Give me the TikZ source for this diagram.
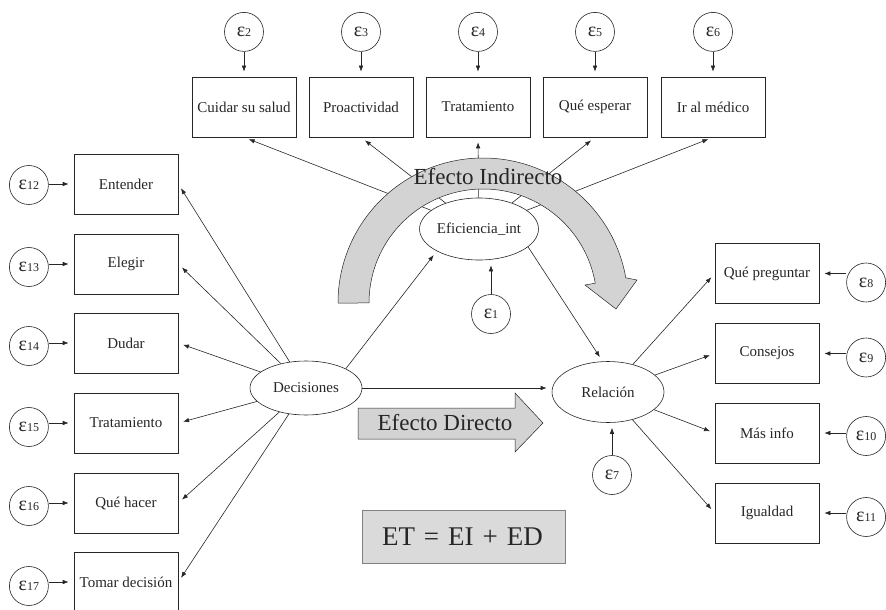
\documentclass[tikz,border=0pt]{standalone}
\usepackage{fontspec}
\setmainfont{Liberation Serif}
\usetikzlibrary{positioning,arrows.meta,shapes.geometric}
\definecolor{ink}{HTML}{262626}
\definecolor{band}{HTML}{D3D3D3}
\definecolor{etfill}{HTML}{DADADA}
\newcommand{\eps}[1]{{\fontsize{20}{20}\selectfont ε}{\fontsize{12}{12}\selectfont #1}}

\begin{document}
\begin{tikzpicture}[x=1pt, y=1pt, ->,
    >={Latex[length=6pt,width=4.5pt]},
    shorten >=5pt,
    line width=0.6pt,
    color=ink,
    font=\fontsize{15}{18}\selectfont,
    obs/.style={draw, rectangle, minimum width=104pt, minimum height=60pt, inner sep=1pt},
    err/.style={draw, circle, minimum size=39pt, inner sep=0pt},
    lat/.style={draw, ellipse, inner sep=0pt}]
    \useasboundingbox (0,0) rectangle (886,-610);

    % indicadores de Eficiencia_int
    \node[obs] (b2) at (244,-107) {Cuidar su salud};
    \node[obs] (b3) at (361,-107) {Proactividad};
    \node[obs] (b4) at (478,-107) {Tratamiento};
    \node[obs] (b5) at (595,-107) {Qué esperar};
    \node[obs] (b6) at (713,-107) {Ir al médico};
    \node[err] (e2) [above=25pt of b2] {\eps{2}};
    \node[err] (e3) [above=25pt of b3] {\eps{3}};
    \node[err] (e4) [above=25pt of b4] {\eps{4}};
    \node[err] (e5) [above=25pt of b5] {\eps{5}};
    \node[err] (e6) [above=25pt of b6] {\eps{6}};

    % indicadores de Decisiones
    \node[obs] (b12) at (126,-184) {Entender};
    \node[obs] (b13) at (126,-264) {Elegir};
    \node[obs] (b14) at (126,-343) {Dudar};
    \node[obs] (b15) at (126,-423) {Tratamiento};
    \node[obs] (b16) at (126,-503) {Qué hacer};
    \node[obs] (b17) at (126,-582) {Tomar decisión};
    \node[err] (e12) [left=25pt of b12, yshift=-1pt] {\eps{12}};
    \node[err] (e13) [left=25pt of b13, yshift=-3pt] {\eps{13}};
    \node[err] (e14) [left=25pt of b14, yshift=-3pt] {\eps{14}};
    \node[err] (e15) [left=25pt of b15, yshift=-4pt] {\eps{15}};
    \node[err] (e16) [left=25pt of b16, yshift=-3pt] {\eps{16}};
    \node[err] (e17) [left=25pt of b17, yshift=-4pt] {\eps{17}};

    % indicadores de Relacion
    \node[obs] (b8) at (767,-273.5) {Qué preguntar};
    \node[obs] (b9) at (767,-353.5) {Consejos};
    \node[obs] (b10) at (767,-433) {Más info};
    \node[obs] (b11) at (767,-513) {Igualdad};
    \node[err] (e8) [right=27pt of b8, yshift=-9pt] {\eps{8}};
    \node[err] (e9) [right=27pt of b9, yshift=-4pt] {\eps{9}};
    \node[err] (e10) [right=27pt of b10, yshift=-3pt] {\eps{10}};
    \node[err] (e11) [right=27pt of b11, yshift=-4pt] {\eps{11}};

    % latentes
    \node[lat, minimum width=112pt, minimum height=54pt] (dec) at (306,-388) {Decisiones};
    \node[lat, minimum width=114pt, minimum height=62pt] (eff) at (479,-229) {Eficiencia\_int};
    \node[lat, minimum width=112pt, minimum height=61pt] (rel) at (608,-392) {Relación};
    \node[err] (e1) at (491,-314) {\eps{1}};
    \node[err] (e7) at (612,-475) {\eps{7}};

    \draw (e2) -- (b2);
    \draw (e3) -- (b3);
    \draw (e4) -- (b4);
    \draw (e5) -- (b5);
    \draw (e6) -- (b6);
    \draw (e12.east |- b12) -- (b12);
    \draw (e13.east |- b13) -- (b13);
    \draw (e14.east |- b14) -- (b14);
    \draw (e15.east |- b15) -- (b15);
    \draw (e16.east |- b16) -- (b16);
    \draw (e17.east |- b17) -- (b17);
    \draw (e8.west |- b8) -- (b8);
    \draw (e9.west |- b9) -- (b9);
    \draw (e10.west |- b10) -- (b10);
    \draw (e11.west |- b11) -- (b11);
    \draw (e1) -- (e1 |- eff.south);
    \draw (e7) -- (e7 |- rel.south);

    \draw (dec) -- (b12.east);
    \draw (dec) -- (b13.east);
    \draw (dec) -- (b14.east);
    \draw (dec) -- (b15.east);
    \draw (dec) -- (b16.east);
    \draw (dec) -- (b17.east);
    \draw (eff) -- (b2.south);
    \draw (eff) -- (b3.south);
    \draw (eff) -- (b4.south);
    \draw (eff) -- (b5.south);
    \draw (eff) -- (b6.south);
    \draw (rel) -- (b8.west);
    \draw (rel) -- (b9.west);
    \draw (rel) -- (b10.west);
    \draw (rel) -- (b11.west);
    \draw (dec.north east) -- (eff.south west);
    \draw (eff.-20) -- (rel.100);
    \draw (dec.east) -- (rel.west |- dec.east);

    % flecha curva del efecto indirecto
    \filldraw[-, fill=band, line width=0.5pt] (338,-303)
        arc[start angle=180, end angle=10, radius=145]
        -- (637,-280) -- (616,-309) -- (585,-285) -- (595.27,-283.2)
        arc[start angle=10, end angle=180, radius=114] -- cycle;
    \node[font=\fontsize{23}{26}\selectfont] (ind) at (488,-177) {Efecto Indirecto};

    % flecha del efecto directo
    \filldraw[-, fill=band, line width=0.5pt] (358,-408) -- (515,-408) -- (515,-393)
        -- (543,-423) -- (515,-452) -- (515,-439) -- (358,-439) -- cycle;
    \node[font=\fontsize{23}{26}\selectfont] (dir) at (445,-423) {Efecto Directo};

    \node[draw=gray, fill=etfill, minimum width=203pt, minimum height=53pt,
        text width=163pt, align=left, font=\fontsize{27}{30}\selectfont] (et) at (463.5,-536.5) {ET = EI + ED};
\end{tikzpicture}
\end{document}
